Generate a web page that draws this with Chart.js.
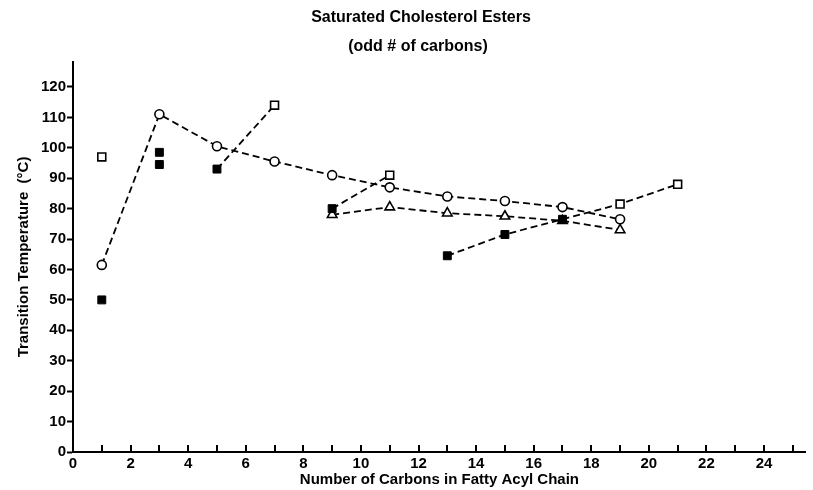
<!DOCTYPE html>
<html>
<head>
<meta charset="utf-8">
<script src="https://cdn.jsdelivr.net/npm/chart.js@4/dist/chart.umd.min.js"></script>
<style>
  html, body { margin: 0; padding: 0; background: #fff; }
  #wrap { width: 813px; height: 490px; }
</style>
</head>
<body>
<div id="wrap"><canvas id="chart" width="813" height="490"></canvas></div>
<script>
// Transition temperatures of saturated cholesterol esters (odd chain lengths)
const circleCarbons = [1, 3, 5, 7, 9, 11, 13, 15, 17, 19];
const circleTemps = [61.5, 111, 100.5, 95.5, 91, 87, 84, 82.5, 80.5, 76.5];

const triangleCarbons = [9, 11, 13, 15, 17, 19];
const triangleTemps = [78, 80.5, 78.5, 77.5, 76, 73];

const openSquareCarbons = [1, 7, 11, 19, 21];
const openSquareTemps = [97, 114, 91, 81.5, 88];

const filledSquareCarbons = [1, 3, 3, 5, 9, 13, 15, 17];
const filledSquareTemps = [50, 98.5, 94.5, 93, 80, 64.5, 71.5, 76.5];

// Dashed connections between square markers: [set, index] references
const squareLinks = [
  [['filled', 3], ['open', 1]],
  [['filled', 4], ['open', 2]],
  [['filled', 5], ['filled', 6], ['filled', 7], ['open', 3], ['open', 4]]
];

const xTickValues = [0, 2, 4, 6, 8, 10, 12, 14, 16, 18, 20, 22, 24];

const title = 'Saturated Cholesterol Esters';
const subtitle = '(odd # of carbons)';
const xTitle = 'Number of Carbons in Fatty Acyl Chain';
const yTitle = 'Transition Temperature  (°C)';

const FONT = '"Liberation Sans", Arial, Helvetica, sans-serif';

const toPoints = (xs, ys) => xs.map((x, i) => ({ x: x, y: ys[i] }));
const circles = toPoints(circleCarbons, circleTemps);
const triangles = toPoints(triangleCarbons, triangleTemps);
const openSquares = toPoints(openSquareCarbons, openSquareTemps);
const filledSquares = toPoints(filledSquareCarbons, filledSquareTemps);
const sets = { open: openSquares, filled: filledSquares };

const dash = [7, 4];
const linkDatasets = squareLinks.map(chain => ({
  data: chain.map(([s, i]) => sets[s][i]),
  showLine: true,
  borderColor: '#000',
  borderWidth: 1.8,
  borderDash: dash,
  pointRadius: 0,
  order: 5
}));

// Heading text above the plot
const headings = {
  id: 'headings',
  afterDraw(chart) {
    const ctx = chart.ctx;
    ctx.save();
    ctx.fillStyle = '#000';
    ctx.textAlign = 'center';
    ctx.textBaseline = 'middle';
    ctx.font = 'bold 16px ' + FONT;
    ctx.fillText(title, 421, 18);
    ctx.fillText(subtitle, 418, 47);
    ctx.restore();
  }
};

// Short inward tick marks at every carbon number on the x axis
const innerTicks = {
  id: 'innerTicks',
  afterDraw(chart) {
    const xs = chart.scales.x;
    const ctx = chart.ctx;
    const base = chart.chartArea.bottom;
    ctx.save();
    ctx.strokeStyle = '#000';
    ctx.lineWidth = 2;
    for (let v = 1; v <= 25; v++) {
      const px = Math.round(xs.getPixelForValue(v));
      ctx.beginPath();
      ctx.moveTo(px, base);
      ctx.lineTo(px, base - 7);
      ctx.stroke();
    }
    ctx.restore();
  }
};

new Chart(document.getElementById('chart'), {
  type: 'scatter',
  data: {
    datasets: [
      {
        data: circles,
        showLine: true,
        borderColor: '#000',
        borderWidth: 1.8,
        borderDash: dash,
        pointStyle: 'circle',
        pointRadius: 4.5,
        pointBorderWidth: 1.6,
        pointBackgroundColor: '#fff',
        pointBorderColor: '#000',
        order: 2
      },
      {
        data: triangles,
        showLine: true,
        borderColor: '#000',
        borderWidth: 1.8,
        borderDash: dash,
        pointStyle: 'triangle',
        pointRadius: 5.5,
        pointBorderWidth: 1.6,
        pointBackgroundColor: '#fff',
        pointBorderColor: '#000',
        order: 3
      },
      ...linkDatasets,
      {
        data: openSquares,
        showLine: false,
        pointStyle: 'rect',
        pointRadius: 5.6,
        pointBorderWidth: 1.6,
        pointBackgroundColor: '#fff',
        pointBorderColor: '#000',
        order: 1
      },
      {
        data: filledSquares,
        showLine: false,
        pointStyle: 'rect',
        pointRadius: 5.6,
        pointBorderWidth: 1,
        pointBackgroundColor: '#000',
        pointBorderColor: '#000',
        order: 0
      }
    ]
  },
  options: {
    responsive: false,
    animation: false,
    events: [],
    layout: { padding: { left: 0, right: 3, top: 62, bottom: 0 } },
    plugins: {
      legend: { display: false },
      tooltip: { enabled: false },
      title: { display: false }
    },
    scales: {
      x: {
        type: 'linear',
        min: 0,
        max: 25.45,
        afterFit(scale) { scale.height = 38; },
        afterBuildTicks(scale) {
          scale.ticks = xTickValues.map(v => ({ value: v }));
        },
        ticks: {
          autoSkip: false,
          maxRotation: 0,
          padding: 3,
          color: '#000',
          font: { family: FONT, size: 15, weight: 'bold' }
        },
        grid: { drawOnChartArea: false, drawTicks: false, color: '#000' },
        border: { color: '#000', width: 2 },
        title: {
          display: true,
          text: xTitle,
          color: '#000',
          padding: { top: 0, bottom: 1 },
          font: { family: FONT, size: 15, weight: 'bold' }
        }
      },
      y: {
        type: 'linear',
        min: 0,
        max: 128.2,
        afterFit(scale) { scale.width = 73; },
        ticks: {
          stepSize: 10,
          includeBounds: false,
          autoSkip: false,
          padding: 1,
          color: '#000',
          font: { family: FONT, size: 15, weight: 'bold' }
        },
        grid: { drawOnChartArea: false, drawTicks: true, tickLength: 6, tickWidth: 2, color: '#000' },
        border: { color: '#000', width: 2 },
        title: {
          display: true,
          text: yTitle,
          color: '#000',
          padding: { top: 15, bottom: 0 },
          font: { family: FONT, size: 15, weight: 'bold' }
        }
      }
    }
  },
  plugins: [headings, innerTicks]
});
</script>
</body>
</html>
